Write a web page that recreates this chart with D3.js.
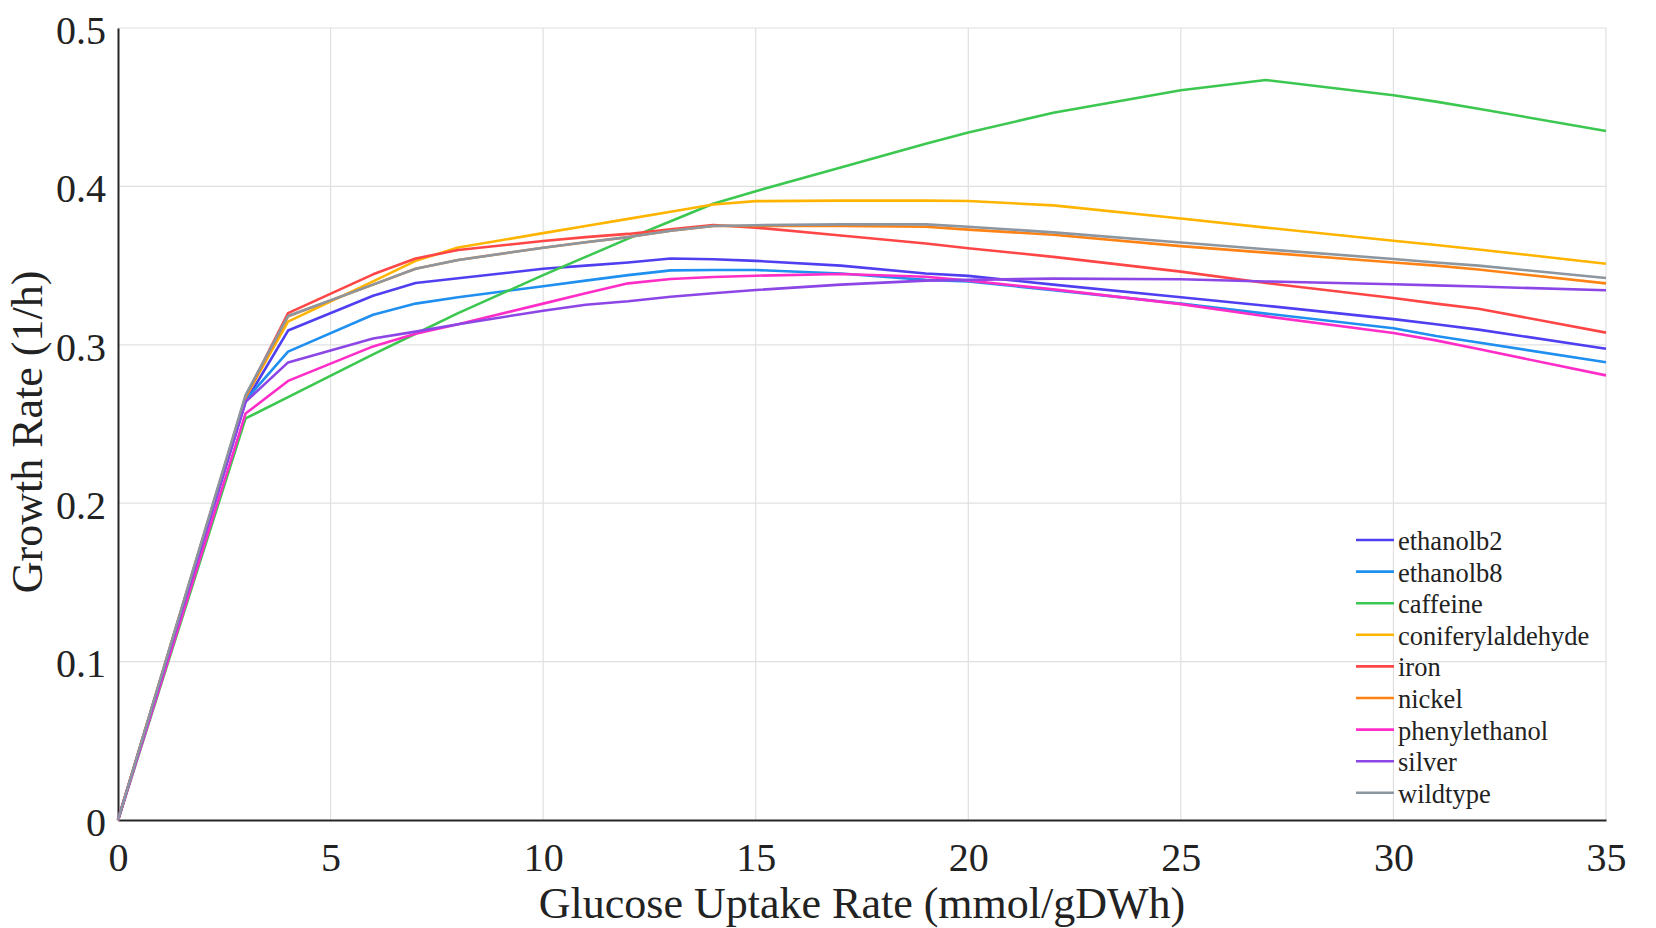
<!DOCTYPE html>
<html>
<head>
<meta charset="utf-8">
<script src="https://cdn.jsdelivr.net/npm/d3@7"></script>
<style>
  html, body { margin: 0; padding: 0; background: #fff; }
  svg { display: block; }
  text { font-family: "Liberation Serif", "Times New Roman", serif; fill: #222; }
</style>
</head>
<body>
<svg id="chart" width="1656" height="928"></svg>
<script>
// ---- Data ----
const glucose = [0, 3, 4, 6, 7, 8, 10, 11, 12, 13, 14, 15, 17, 19, 20, 22, 25, 27, 30, 31, 32, 35];

const ethanolb2         = [0, 0.264, 0.309, 0.331, 0.339, 0.342, 0.348, 0.350, 0.352, 0.3545, 0.354, 0.353, 0.350, 0.345, 0.3435, 0.338, 0.330, 0.3247, 0.3162, 0.313, 0.3096, 0.2975];
const ethanolb8         = [0, 0.265, 0.2957, 0.319, 0.326, 0.330, 0.337, 0.3405, 0.344, 0.347, 0.3472, 0.3472, 0.345, 0.341, 0.340, 0.3345, 0.326, 0.3197, 0.3105, 0.3055, 0.3014, 0.289];
const caffeine          = [0, 0.2535, 0.267, 0.294, 0.307, 0.320, 0.344, 0.3555, 0.367, 0.378, 0.389, 0.397, 0.412, 0.427, 0.434, 0.4465, 0.4607, 0.4672, 0.4575, 0.4535, 0.449, 0.435];
const coniferylaldehyde = [0, 0.267, 0.3146, 0.340, 0.353, 0.3614, 0.3705, 0.375, 0.3795, 0.384, 0.3886, 0.3907, 0.391, 0.391, 0.3908, 0.388, 0.3797, 0.374, 0.3657, 0.363, 0.3602, 0.3512];
const iron              = [0, 0.267, 0.320, 0.3445, 0.3545, 0.3598, 0.3655, 0.368, 0.370, 0.373, 0.3756, 0.374, 0.369, 0.364, 0.361, 0.3555, 0.3462, 0.339, 0.3295, 0.326, 0.3228, 0.3077];
const nickel            = [0, 0.267, 0.318, 0.338, 0.348, 0.3535, 0.3613, 0.3647, 0.368, 0.372, 0.375, 0.375, 0.375, 0.3745, 0.3727, 0.3695, 0.3623, 0.3582, 0.352, 0.350, 0.3475, 0.3388];
const phenylethanol     = [0, 0.2566, 0.2772, 0.299, 0.307, 0.313, 0.326, 0.3325, 0.3388, 0.3415, 0.3428, 0.3436, 0.3447, 0.343, 0.3405, 0.335, 0.3257, 0.318, 0.3075, 0.3028, 0.2973, 0.2807];
const silver            = [0, 0.264, 0.2889, 0.304, 0.3083, 0.313, 0.3215, 0.3253, 0.3275, 0.3303, 0.3325, 0.3346, 0.338, 0.3405, 0.341, 0.3418, 0.3414, 0.340, 0.3382, 0.3375, 0.3368, 0.3344];
const wildtype          = [0, 0.2683, 0.3182, 0.338, 0.348, 0.3535, 0.3613, 0.3647, 0.368, 0.372, 0.375, 0.3755, 0.376, 0.376, 0.3745, 0.371, 0.3646, 0.3603, 0.3542, 0.352, 0.350, 0.3422];

const seriesNames  = ["ethanolb2", "ethanolb8", "caffeine", "coniferylaldehyde", "iron", "nickel", "phenylethanol", "silver", "wildtype"];
const seriesValues = [ethanolb2, ethanolb8, caffeine, coniferylaldehyde, iron, nickel, phenylethanol, silver, wildtype];
const seriesColors = ["#4f3ff0", "#1f8ff0", "#3cc850", "#ffb400", "#ff4646", "#ff8214", "#ff2dc8", "#8c46e6", "#8c96a0"];

const xTicks = [0, 5, 10, 15, 20, 25, 30, 35];
const yTicks = [0, 0.1, 0.2, 0.3, 0.4, 0.5];
const xTitle = "Glucose Uptake Rate (mmol/gDWh)";
const yTitle = "Growth Rate (1/h)";

// ---- Layout ----
const margin = { left: 118, right: 50, top: 28, bottom: 108 };
const W = 1656, H = 928;
const svg = d3.select("#chart");

const x = d3.scaleLinear().domain([0, 35]).range([margin.left, W - margin.right]);
const y = d3.scaleLinear().domain([0, 0.5]).range([H - margin.bottom, margin.top]);

// grid
const grid = svg.append("g").attr("class", "grid");
grid.selectAll("line.vx").data(xTicks.filter(d => d > 0)).join("line")
  .attr("x1", d => x(d)).attr("x2", d => x(d))
  .attr("y1", y(0)).attr("y2", y(0.5))
  .attr("stroke", "#e0e0e0").attr("stroke-width", 1.2);
grid.selectAll("line.hy").data(yTicks.filter(d => d > 0)).join("line")
  .attr("x1", x(0)).attr("x2", x(35))
  .attr("y1", d => y(d)).attr("y2", d => y(d))
  .attr("stroke", "#e0e0e0").attr("stroke-width", 1.2);

// axes
const xAxis = d3.axisBottom(x).tickValues(xTicks).tickSize(0).tickPadding(23).tickFormat(d3.format("d"));
const yAxis = d3.axisLeft(y).tickValues(yTicks).tickSize(0).tickPadding(12)
  .tickFormat(d => d === 0 ? "0" : d3.format(".1f")(d));

const gx = svg.append("g").attr("transform", `translate(0,${y(0)})`).call(xAxis);
gx.select(".domain").attr("stroke", "#262626").attr("stroke-width", 2);
gx.selectAll("text").style("font-family", '"Liberation Serif", serif').style("font-size", "40px").attr("fill", "#222")
  .attr("dy", "0.71em");

const gy = svg.append("g").attr("transform", `translate(${x(0)},0)`).call(yAxis);
gy.select(".domain").attr("stroke", "#262626").attr("stroke-width", 2);
gy.selectAll("text").style("font-family", '"Liberation Serif", serif').style("font-size", "40px").attr("fill", "#222")
  .attr("dy", "0.38em");

// lines
const line = d3.line().x((d, i) => x(glucose[i])).y(d => y(d));
svg.append("g").selectAll("path").data(seriesValues).join("path")
  .attr("d", d => line(d))
  .attr("fill", "none")
  .attr("stroke", (d, i) => seriesColors[i])
  .attr("stroke-width", 2.6)
  .attr("stroke-linejoin", "round");

// axis titles
svg.append("text")
  .attr("x", (x(0) + x(35)) / 2).attr("y", 918)
  .attr("text-anchor", "middle").style("font-size", "44px")
  .text(xTitle);
svg.append("text")
  .attr("transform", `translate(42,${(y(0) + y(0.5)) / 2 + 8}) rotate(-90)`)
  .attr("text-anchor", "middle").style("font-size", "44px")
  .text(yTitle);

// legend
const leg = svg.append("g").attr("transform", "translate(1356,540)");
const rows = leg.selectAll("g").data(seriesNames).join("g")
  .attr("transform", (d, i) => `translate(0,${i * 31.6})`);
rows.append("line").attr("x1", 0).attr("x2", 38).attr("y1", 0).attr("y2", 0)
  .attr("stroke", (d, i) => seriesColors[i]).attr("stroke-width", 2.6);
rows.append("text").attr("x", 42).attr("y", 10).style("font-size", "26.5px").text(d => d);
</script>
</body>
</html>
